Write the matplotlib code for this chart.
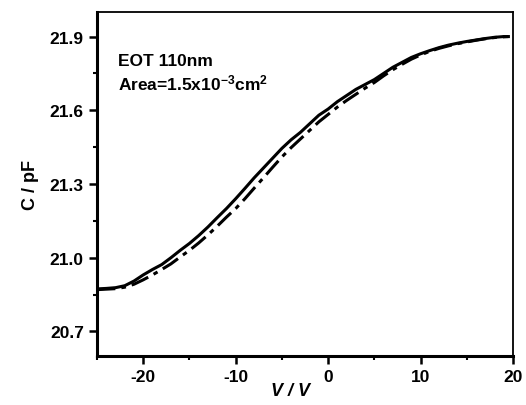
import numpy as np
import matplotlib
matplotlib.use('Agg')
import matplotlib.pyplot as plt
from matplotlib.ticker import MultipleLocator

plt.rcParams['font.family'] = ['Liberation Sans', 'DejaVu Sans']
plt.rcParams['font.weight'] = 'bold'
plt.rcParams['axes.unicode_minus'] = False
plt.rcParams['mathtext.fontset'] = 'custom'
plt.rcParams['mathtext.rm'] = 'Liberation Sans:bold'
plt.rcParams['mathtext.default'] = 'rm'

# data
V = [-25, -24, -23, -22, -21, -20, -19, -18, -17, -16, -15, -14, -13, -12, -11, -10,
     -9, -8, -7, -6, -5, -4, -3, -2, -1, 0, 1, 2, 3, 4, 5, 6, 7, 8, 9, 10,
     11, 12, 13, 14, 15, 16, 17, 18, 19, 19.5]
C_solid = [20.873, 20.875, 20.878, 20.886, 20.905, 20.93, 20.952, 20.972, 21.00, 21.03,
           21.058, 21.09, 21.125, 21.163, 21.20, 21.24, 21.282, 21.325, 21.365, 21.405,
           21.445, 21.48, 21.51, 21.545, 21.58, 21.605, 21.635, 21.66, 21.685, 21.705,
           21.725, 21.75, 21.775, 21.795, 21.815, 21.83, 21.843, 21.855, 21.865, 21.873,
           21.88, 21.886, 21.892, 21.897, 21.90, 21.90]
C_dashdot = [20.87, 20.872, 20.874, 20.88, 20.892, 20.91, 20.93, 20.952, 20.975, 21.003,
             21.03, 21.06, 21.093, 21.128, 21.165, 21.20, 21.24, 21.283, 21.325, 21.368,
             21.41, 21.448, 21.483, 21.518, 21.553, 21.583, 21.613, 21.64, 21.665, 21.69,
             21.713, 21.74, 21.765, 21.787, 21.808, 21.825, 21.84, 21.852, 21.862, 21.871,
             21.878, 21.885, 21.891, 21.896, 21.899, 21.90]

fig = plt.figure(figsize=(5.26, 4.06), dpi=100)
ax = fig.add_axes([0.1844, 0.1207, 0.7909, 0.8473])

ax.plot(V, C_solid, color='black', lw=2.2, ls='-')
ax.plot(V, C_dashdot, color='black', lw=2.2, ls=(0, (6, 2, 1.5, 2)))

ax.set_xlim(-25, 20)
ax.set_ylim(20.6, 22.0)
ax.xaxis.set_major_locator(MultipleLocator(10))
ax.xaxis.set_minor_locator(MultipleLocator(5))
ax.yaxis.set_minor_locator(MultipleLocator(0.15))
ax.set_yticks([20.7, 21.0, 21.3, 21.6, 21.9])
ax.set_yticklabels(['20.7', '21.0', '21.3', '21.6', '21.9'])

ax.tick_params(which='major', direction='out', length=6, width=1.8, labelsize=12.5,
               top=False, right=False)
ax.tick_params(which='minor', direction='out', length=3, width=1.5, top=False, right=False)
for lab in ax.get_xticklabels() + ax.get_yticklabels():
    lab.set_fontweight('bold')

ax.spines['left'].set_linewidth(2.2)
ax.spines['bottom'].set_linewidth(2.2)
ax.spines['top'].set_linewidth(1.3)
ax.spines['right'].set_linewidth(1.3)

ax.set_xlabel('V / V', fontsize=13, fontweight='bold', style='italic', labelpad=0)
ax.xaxis.set_label_coords(0.465, -0.075)
ax.set_ylabel('C / pF', fontsize=13, fontweight='bold', labelpad=8)

ax.text(0.05, 0.86, 'EOT 110nm', transform=ax.transAxes, fontsize=12.5,
        fontweight='bold', va='center')
ax.text(0.05, 0.795, 'Area=1.5x10$^{-3}$cm$^{2}$', transform=ax.transAxes,
        fontsize=12.5, fontweight='bold', va='center')

fig.savefig('out.png', dpi=100)
